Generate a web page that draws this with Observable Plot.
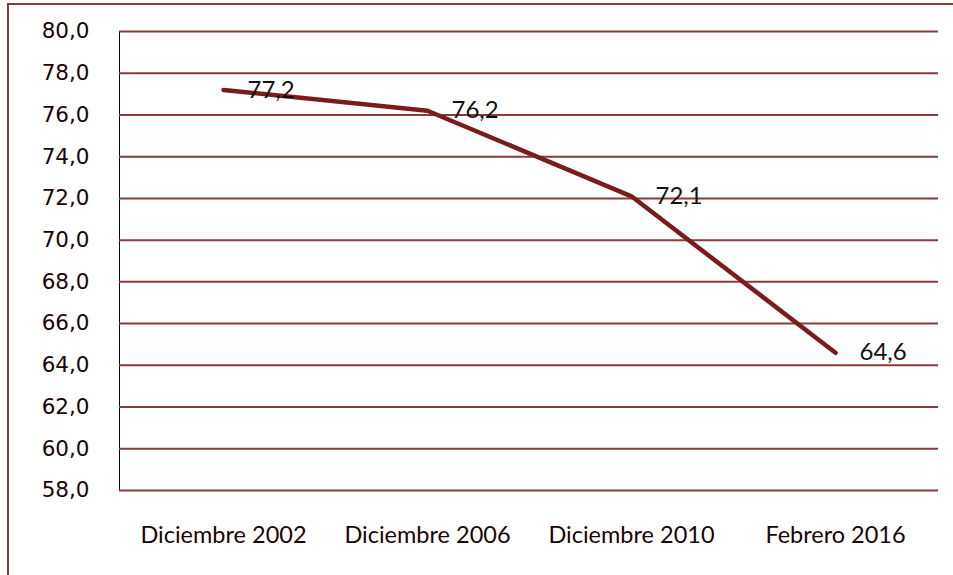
<!DOCTYPE html>
<html><head><meta charset="utf-8">
<script src="https://cdn.jsdelivr.net/npm/d3@7"></script>
<script src="https://cdn.jsdelivr.net/npm/@observablehq/plot@0.6"></script>
<style>
body{margin:0;background:#fff;overflow:hidden}
#wrap{position:relative;width:953px;height:575px}
#border{position:absolute;left:7px;top:3px;width:960px;height:600px;border-top:2px solid #8a3a3a;border-left:2px solid #8a3a3a;box-sizing:border-box}
#chart{position:absolute;left:0;top:0}
</style></head>
<body><div id="wrap"><div id="border"></div><div id="chart"></div></div>
<script>
const categories = ["Diciembre 2002", "Diciembre 2006", "Diciembre 2010", "Febrero 2016"];
const values = [77.2, 76.2, 72.1, 64.6];
const yTicks = [58, 60, 62, 64, 66, 68, 70, 72, 74, 76, 78, 80];

const data = categories.map((c, i) => ({cat: c, v: values[i]}));
const fmt = d => d.toFixed(1).replace(".", ",");
const gridColor = "#8a3a3a";
const lineColor = "#7a1c1c";

const plot = Plot.plot({
  width: 953, height: 575,
  marginLeft: 119, marginRight: 15, marginTop: 31, marginBottom: 85,
  style: {background: "transparent", color: "#1a0505"},
  x: {type: "point", domain: categories, padding: 0.5, label: null, tickSize: 0, tickPadding: 36},
  y: {domain: [58, 80], label: null, tickSize: 0, tickPadding: 30, ticks: yTicks, tickFormat: fmt, line: true},
  marks: [
    Plot.ruleY(yTicks, {stroke: gridColor, strokeWidth: 2}),
    Plot.line(data, {x: "cat", y: "v", stroke: lineColor, strokeWidth: 4.5, strokeLinecap: "round", strokeLinejoin: "round"}),
    Plot.text(data, {x: "cat", y: "v", text: d => fmt(d.v), dx: 24, textAnchor: "start", fontSize: 24, fontFamily: "Lato", fill: "#111"})
  ]
});
d3.select(plot).selectAll("[aria-label='y-axis tick label'] text").style("font-family", "'DejaVu Sans'").style("font-size", "21.5px");
d3.select(plot).selectAll("[aria-label='x-axis tick label'] text").style("font-family", "Lato").style("font-size", "23.5px");
d3.select(plot).selectAll("[aria-label='y-axis line'], [aria-label='y-axis'] line").attr("stroke", gridColor).attr("stroke-width", 2);
document.getElementById("chart").append(plot);
</script></body></html>
